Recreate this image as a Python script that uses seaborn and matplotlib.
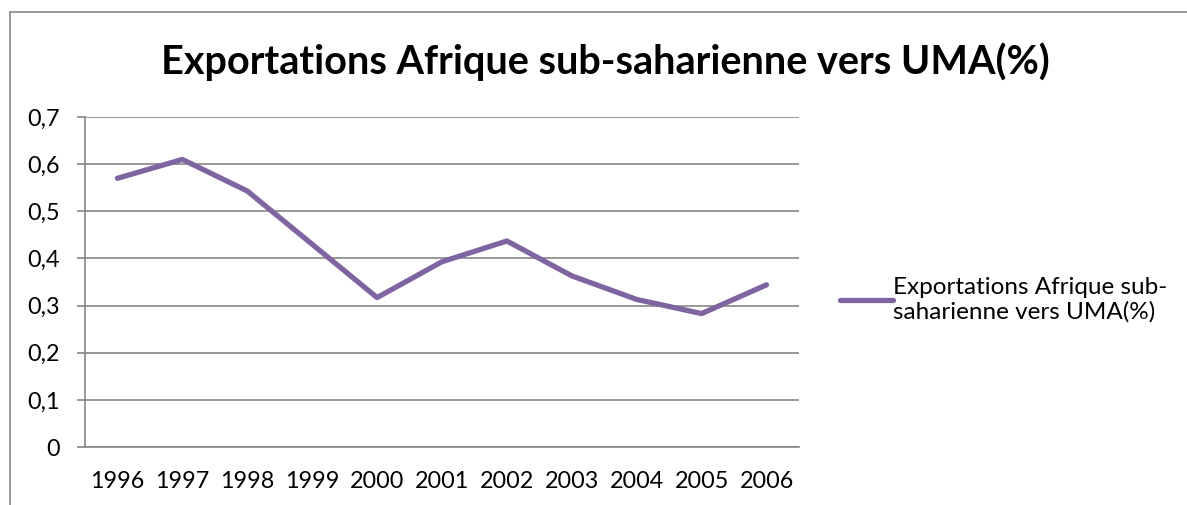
import matplotlib
matplotlib.use("Agg")
import matplotlib.pyplot as plt
import seaborn as sns
import pandas as pd
from matplotlib.ticker import FuncFormatter, FixedLocator, MultipleLocator
from matplotlib.patches import Rectangle
from matplotlib.lines import Line2D

years = ["1996", "1997", "1998", "1999", "2000", "2001", "2002", "2003", "2004", "2005", "2006"]
values = [0.57, 0.61, 0.543, 0.43, 0.317, 0.393, 0.437, 0.363, 0.313, 0.283, 0.344]
series_name = "Exportations Afrique sub-saharienne vers UMA(%)"
title = "Exportations Afrique sub-saharienne vers UMA(%)"

sns.set_style("white")
plt.rcParams["font.family"] = ["Lato", "DejaVu Sans"]

W, H = 1187, 505
fig = plt.figure(figsize=(W / 100, H / 100), dpi=100)
fig.patch.set_facecolor("white")

# chart frame
fig.patches.append(Rectangle((10 / W, -0.1), 1.2, 1 - 12 / H + 0.1, transform=fig.transFigure,
                             fill=False, edgecolor="#868686", linewidth=1.2))

ax = fig.add_axes([85 / W, (H - 447) / H, (799 - 85) / W, (447 - 117) / H])
df = pd.DataFrame({"year": years, "value": values})
purple = "#8064A2"
sns.lineplot(data=df, x="year", y="value", ax=ax, color=purple, linewidth=3.8,
             solid_capstyle="round", solid_joinstyle="round", sort=False)

fs = 16.8
ax.set_xlim(-0.5, len(years) - 0.5)
ax.set_ylim(0, 0.7)
ax.yaxis.set_major_locator(MultipleLocator(0.1))
ax.yaxis.set_major_formatter(FuncFormatter(lambda v, p: "0" if abs(v) < 1e-9 else f"{v:.1f}".replace(".", ",")))
ax.set_xticks(range(len(years)))
ax.set_xticklabels(years)
ax.xaxis.set_minor_locator(FixedLocator([i - 0.5 for i in range(len(years) + 1)]))
ax.tick_params(axis="x", which="major", length=0, pad=17, labelsize=fs, colors="black")
ax.tick_params(axis="x", which="minor", length=6, width=1.2, color="#868686", direction="out")
ax.tick_params(axis="y", which="major", length=6, width=1.2, color="#868686", direction="out",
               labelsize=fs, pad=12, left=True)
for lab in ax.get_yticklabels() + ax.get_xticklabels():
    lab.set_color("black")

ax.grid(axis="y", color="#868686", linewidth=1.2)
ax.grid(axis="x", visible=False)
for s in ["top", "right"]:
    ax.spines[s].set_visible(False)
for s in ["left", "bottom"]:
    ax.spines[s].set_color("#868686")
    ax.spines[s].set_linewidth(1.2)
ax.set_xlabel("")
ax.set_ylabel("")

fig.text(605 / W, 1 - 62 / H, title, ha="center", va="center", fontsize=28.5, fontweight="bold",
         color="black")

# legend
handle = Line2D([0], [0], color=purple, linewidth=3.8, solid_capstyle="round")
leg = fig.legend([handle], ["Exportations Afrique sub-\nsaharienne vers UMA(%)"],
                 loc="center left", bbox_to_anchor=(840 / W, 1 - 300 / H), frameon=False,
                 prop={"size": 17.5}, handlelength=2.2, handletextpad=0.0, borderpad=0,
                 borderaxespad=0)
for t in leg.get_texts():
    t.set_color("black")
    t.set_fontsize(17.5)

fig.savefig("out.png", dpi=100, facecolor="white")
